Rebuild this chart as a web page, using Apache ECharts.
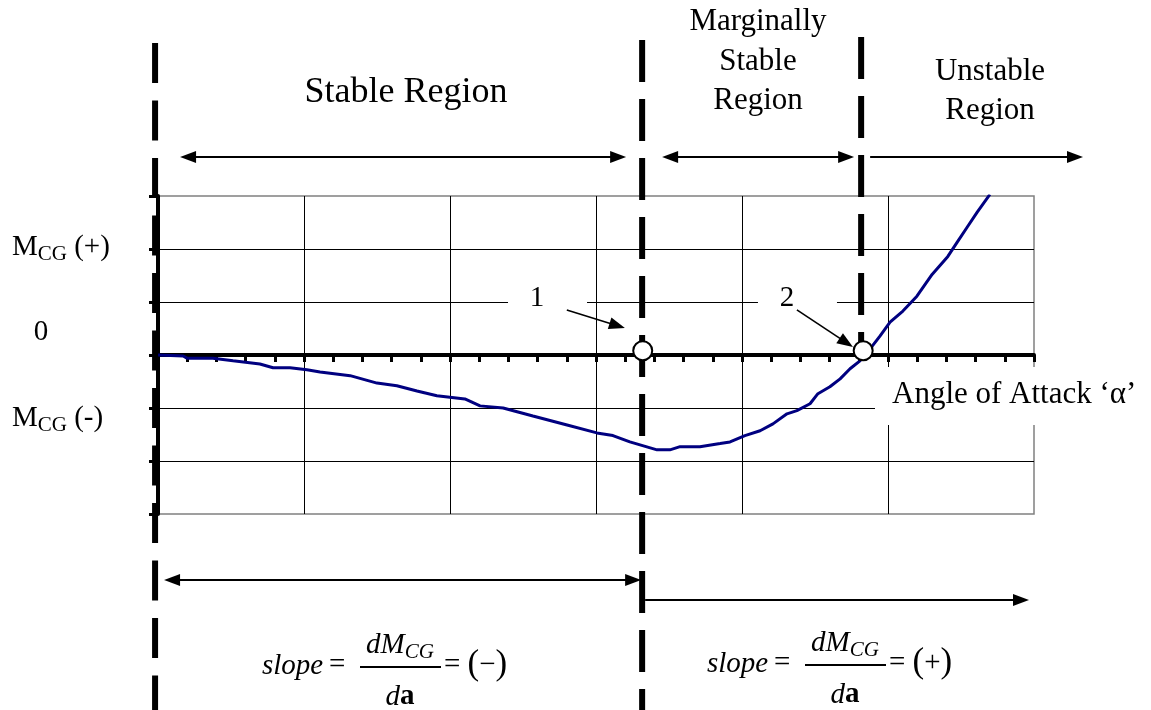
<!DOCTYPE html>
<html>
<head>
<meta charset="utf-8">
<script src="https://cdn.jsdelivr.net/npm/echarts@6/dist/echarts.min.js"></script>
<style>
  html, body { margin: 0; padding: 0; background: #fff; }
  #chart { width: 1151px; height: 710px; }
</style>
</head>
<body>
<div id="chart"></div>
<script>
// Angle of attack (axis units, 5 per grid cell) and pitching moment about the CG
const alpha = [0, 0.86, 0.99, 1.88, 2.57, 3.49, 3.94, 4.52, 5.10, 5.55,
  6.58, 7.50, 8.18, 8.87, 9.55, 10.51, 11.03, 11.82, 12.84, 14.01,
  15.03, 15.58, 16.16, 17.09, 17.53, 17.88, 18.56, 19.25, 19.59, 20.10,
  20.62, 21.06, 21.54, 21.88, 22.33, 22.60, 23.01, 23.36, 23.70, 24.04,
  24.38, 24.73, 25.07, 25.51, 25.99, 26.51, 27.05, 27.36, 27.71, 28.05,
  28.49];
const moment = [0, -0.02, -0.06, -0.06, -0.11, -0.17, -0.24, -0.24, -0.28, -0.32,
  -0.39, -0.53, -0.58, -0.68, -0.77, -0.83, -0.96, -1.00, -1.15, -1.32,
  -1.47, -1.52, -1.64, -1.79, -1.79, -1.73, -1.73, -1.67, -1.64, -1.52,
  -1.43, -1.30, -1.11, -1.05, -0.92, -0.73, -0.60, -0.45, -0.26, -0.11,
  0.11, 0.36, 0.62, 0.83, 1.11, 1.52, 1.86, 2.12, 2.41, 2.69,
  3.03];

// Region boundaries along the alpha axis
const boundaries = [-0.1, 16.58, 24.08];

// Marked points 1 and 2 on the zero-moment line
const pointNames = ['1', '2'];
const pointAlpha = [16.6, 24.15];
const pointMoment = [0.08, 0.08];

// Callout labels and their leader arrows
const calloutAlpha = [12.98, 21.54];
const calloutMoment = [1.075, 1.075];
const leaderFrom = [[14.0, 0.85], [21.88, 0.85]];
const leaderTo = [[15.99, 0.51], [23.8, 0.15]];

// Axis ranges
const xRange = [0, 30, 5];
const yRange = [-3, 3, 1];

const SERIF = '"Liberation Serif", "Times New Roman", serif';

const chart = echarts.init(document.getElementById('chart'), null, { renderer: 'canvas' });

const option = {
  animation: false,
  backgroundColor: '#fff',
  grid: {
    left: 158, right: 117, top: 196, bottom: 196,
    show: true, borderColor: '#808080', borderWidth: 1.5,
    backgroundColor: 'transparent',
    outerBoundsMode: 'none'
  },
  xAxis: {
    type: 'value', min: xRange[0], max: xRange[1], interval: xRange[2],
    axisLine: { show: true, onZero: true, lineStyle: { color: '#000', width: 4 } },
    axisTick: { show: true, inside: false, length: 7, lineStyle: { color: '#000', width: 3 } },
    minorTick: { show: true, splitNumber: 5, length: 7, lineStyle: { color: '#000', width: 3 } },
    axisLabel: { show: false },
    splitLine: { show: true, showMinLine: false, showMaxLine: false, lineStyle: { color: '#000', width: 1 } },
    minorSplitLine: { show: false }
  },
  yAxis: {
    type: 'value', min: yRange[0], max: yRange[1], interval: yRange[2],
    axisLine: { show: true, onZero: false, lineStyle: { color: '#000', width: 4 } },
    axisTick: { show: true, inside: false, length: 9, lineStyle: { color: '#000', width: 3 } },
    axisLabel: { show: false },
    splitLine: { show: true, showMinLine: false, showMaxLine: false, lineStyle: { color: '#000', width: 1 } }
  },
  series: [
    {
      name: 'M_CG',
      type: 'line',
      data: alpha.map((a, i) => [a, moment[i]]),
      showSymbol: false,
      symbol: 'none',
      clip: true,
      lineStyle: { color: '#000080', width: 3 },
      z: 2
    },
    {
      name: 'points',
      type: 'scatter',
      z: 10,
      symbol: 'circle',
      symbolSize: 19,
      itemStyle: { color: '#fff', borderColor: '#000', borderWidth: 2, opacity: 1 },
      emphasis: { disabled: true },
      data: pointAlpha.map((a, i) => [a, pointMoment[i]])
    }
  ]
};

chart.setOption(option);

// Decorations drawn in pixel space around the plot
const toPx = (x, y) => chart.convertToPixel({ gridIndex: 0 }, [x, y]);
const bx = boundaries.map(v => toPx(v, 0)[0]);

function textEl(str, x, y, size, opts) {
  opts = opts || {};
  const align = opts.align || 'left';
  return {
    type: 'text', z: opts.z || 20, silent: true,
    style: {
      text: str, x: x, y: y,
      font: (opts.style || 'normal') + ' ' + (opts.weight || 'normal') + ' ' + size + 'px ' + SERIF,
      fill: '#000',
      align: align, textAlign: align,
      verticalAlign: 'middle', textVerticalAlign: 'middle',
      rich: opts.rich
    }
  };
}

function arrowhead(x, y, ang, z) {
  const L = 16, W = 6;
  const c = Math.cos(ang), s = Math.sin(ang);
  return { type: 'polygon', z: z, silent: true,
    shape: { points: [[x, y], [x - L * c + W * s, y - L * s - W * c], [x - L * c - W * s, y - L * s + W * c]] },
    style: { fill: '#000' } };
}

function arrow(x1, x2, y, startHead, endHead) {
  const L = 16;
  const els = [{
    type: 'line', z: 6, silent: true,
    shape: { x1: startHead ? x1 + L - 2 : x1, y1: y, x2: endHead ? x2 - L + 2 : x2, y2: y },
    style: { stroke: '#000', lineWidth: 2 }
  }];
  if (endHead) els.push(arrowhead(x2, y, 0, 6));
  if (startHead) els.push(arrowhead(x1, y, Math.PI, 6));
  return els;
}

function leader(from, to) {
  const a = toPx(from[0], from[1]);
  const b = toPx(to[0], to[1]);
  const ang = Math.atan2(b[1] - a[1], b[0] - a[0]);
  return [
    { type: 'line', z: 8, silent: true,
      shape: { x1: a[0], y1: a[1], x2: b[0] - 12 * Math.cos(ang), y2: b[1] - 12 * Math.sin(ang) },
      style: { stroke: '#000', lineWidth: 1.6 } },
    arrowhead(b[0], b[1], ang, 8)
  ];
}

function callout(name, x, y) {
  const p = toPx(x, y);
  return [
    { type: 'rect', z: 7, silent: true,
      shape: { x: p[0] - 29, y: p[1] - 10, width: 79, height: 20 }, style: { fill: '#fff' } },
    textEl(name, p[0], p[1], 29, { align: 'center', z: 8 })
  ];
}

function dashed(x, y1, y2, dash, gap) {
  return {
    type: 'line', z: 4, silent: true,
    shape: { x1: x, y1: y1, x2: x, y2: y2 },
    style: { stroke: '#000', lineWidth: 6, lineDash: [dash, gap], lineCap: 'butt' }
  };
}

const richSub = (size, italic) => ({
  m: { fontFamily: SERIF, fontSize: size, fontStyle: italic ? 'italic' : 'normal', lineHeight: size },
  s: { fontFamily: SERIF, fontSize: Math.round(size * 0.72), fontStyle: italic ? 'italic' : 'normal',
       lineHeight: Math.round(size * 0.72), verticalAlign: 'bottom', padding: [0, 0, -3, 0] },
  b: { fontFamily: SERIF, fontSize: size, fontWeight: 'bold', lineHeight: size },
  i: { fontFamily: SERIF, fontSize: size, fontStyle: 'italic', lineHeight: size },
  p: { fontFamily: SERIF, fontSize: Math.round(size * 1.2), lineHeight: size }
});

function slopeFormula(x0, yBar, sign) {
  const fs = 29;
  return [
    textEl('slope', x0, yBar - 1, fs, { style: 'italic' }),
    textEl('=', x0 + 67, yBar - 2, fs),
    { type: 'line', z: 20, silent: true,
      shape: { x1: x0 + 98, y1: yBar, x2: x0 + 179, y2: yBar },
      style: { stroke: '#000', lineWidth: 2 } },
    textEl('{m|dM}{s|CG}', x0 + 138, yBar - 22, fs, { align: 'center', style: 'italic', rich: richSub(fs, true) }),
    textEl('{i|d}{b|a}', x0 + 138, yBar + 30, fs, { align: 'center', rich: richSub(fs, true) }),
    textEl('{m|= }{p|(}{m|' + sign + '}{p|)}', x0 + 182, yBar - 2, fs, { rich: richSub(fs, false) })
  ];
}

const graphics = [].concat(
  // region boundaries
  dashed(bx[0], 43, 710, 40, 17.5),
  dashed(bx[1], 40, 710, 42, 17),
  dashed(bx[2], 37, 352, 42, 17),
  // region headings
  textEl('Stable Region', 406, 93, 36, { align: 'center' }),
  textEl('Marginally', 758, 22, 31, { align: 'center' }),
  textEl('Stable', 758, 62, 31, { align: 'center' }),
  textEl('Region', 758, 101, 31, { align: 'center' }),
  textEl('Unstable', 990, 72, 31, { align: 'center' }),
  textEl('Region', 990, 111, 31, { align: 'center' }),
  // region span arrows
  arrow(bx[0] + 25, bx[1] - 16, 157, true, true),
  arrow(bx[1] + 20, bx[2] - 7, 157, true, true),
  arrow(bx[2] + 9, 1083, 157, false, true),
  arrow(bx[0] + 9, bx[1] - 1, 580, true, true),
  arrow(bx[1] + 3, 1029, 600, false, true),
  // moment labels on the left
  textEl('{m|M}{s|CG}{m| (+)}', 12, 247, 29, { rich: richSub(29, false) }),
  textEl('0', 41, 332, 29, { align: 'center' }),
  textEl('{m|M}{s|CG}{m| (-)}', 12, 418, 29, { rich: richSub(29, false) }),
  // callouts for points 1 and 2
  callout(pointNames[0], calloutAlpha[0], calloutMoment[0]),
  callout(pointNames[1], calloutAlpha[1], calloutMoment[1]),
  leader(leaderFrom[0], leaderTo[0]),
  leader(leaderFrom[1], leaderTo[1]),
  // x-axis title on a white panel
  { type: 'rect', z: 15, silent: true, shape: { x: 875, y: 367, width: 276, height: 58 }, style: { fill: '#fff' } },
  textEl('Angle of Attack \u2018\u03b1\u2019', 892, 395, 31),
  // slope annotations
  slopeFormula(262, 667, '\u2212'),
  slopeFormula(707, 665, '+')
);

chart.setOption({ graphic: { elements: graphics } });
</script>
</body>
</html>
